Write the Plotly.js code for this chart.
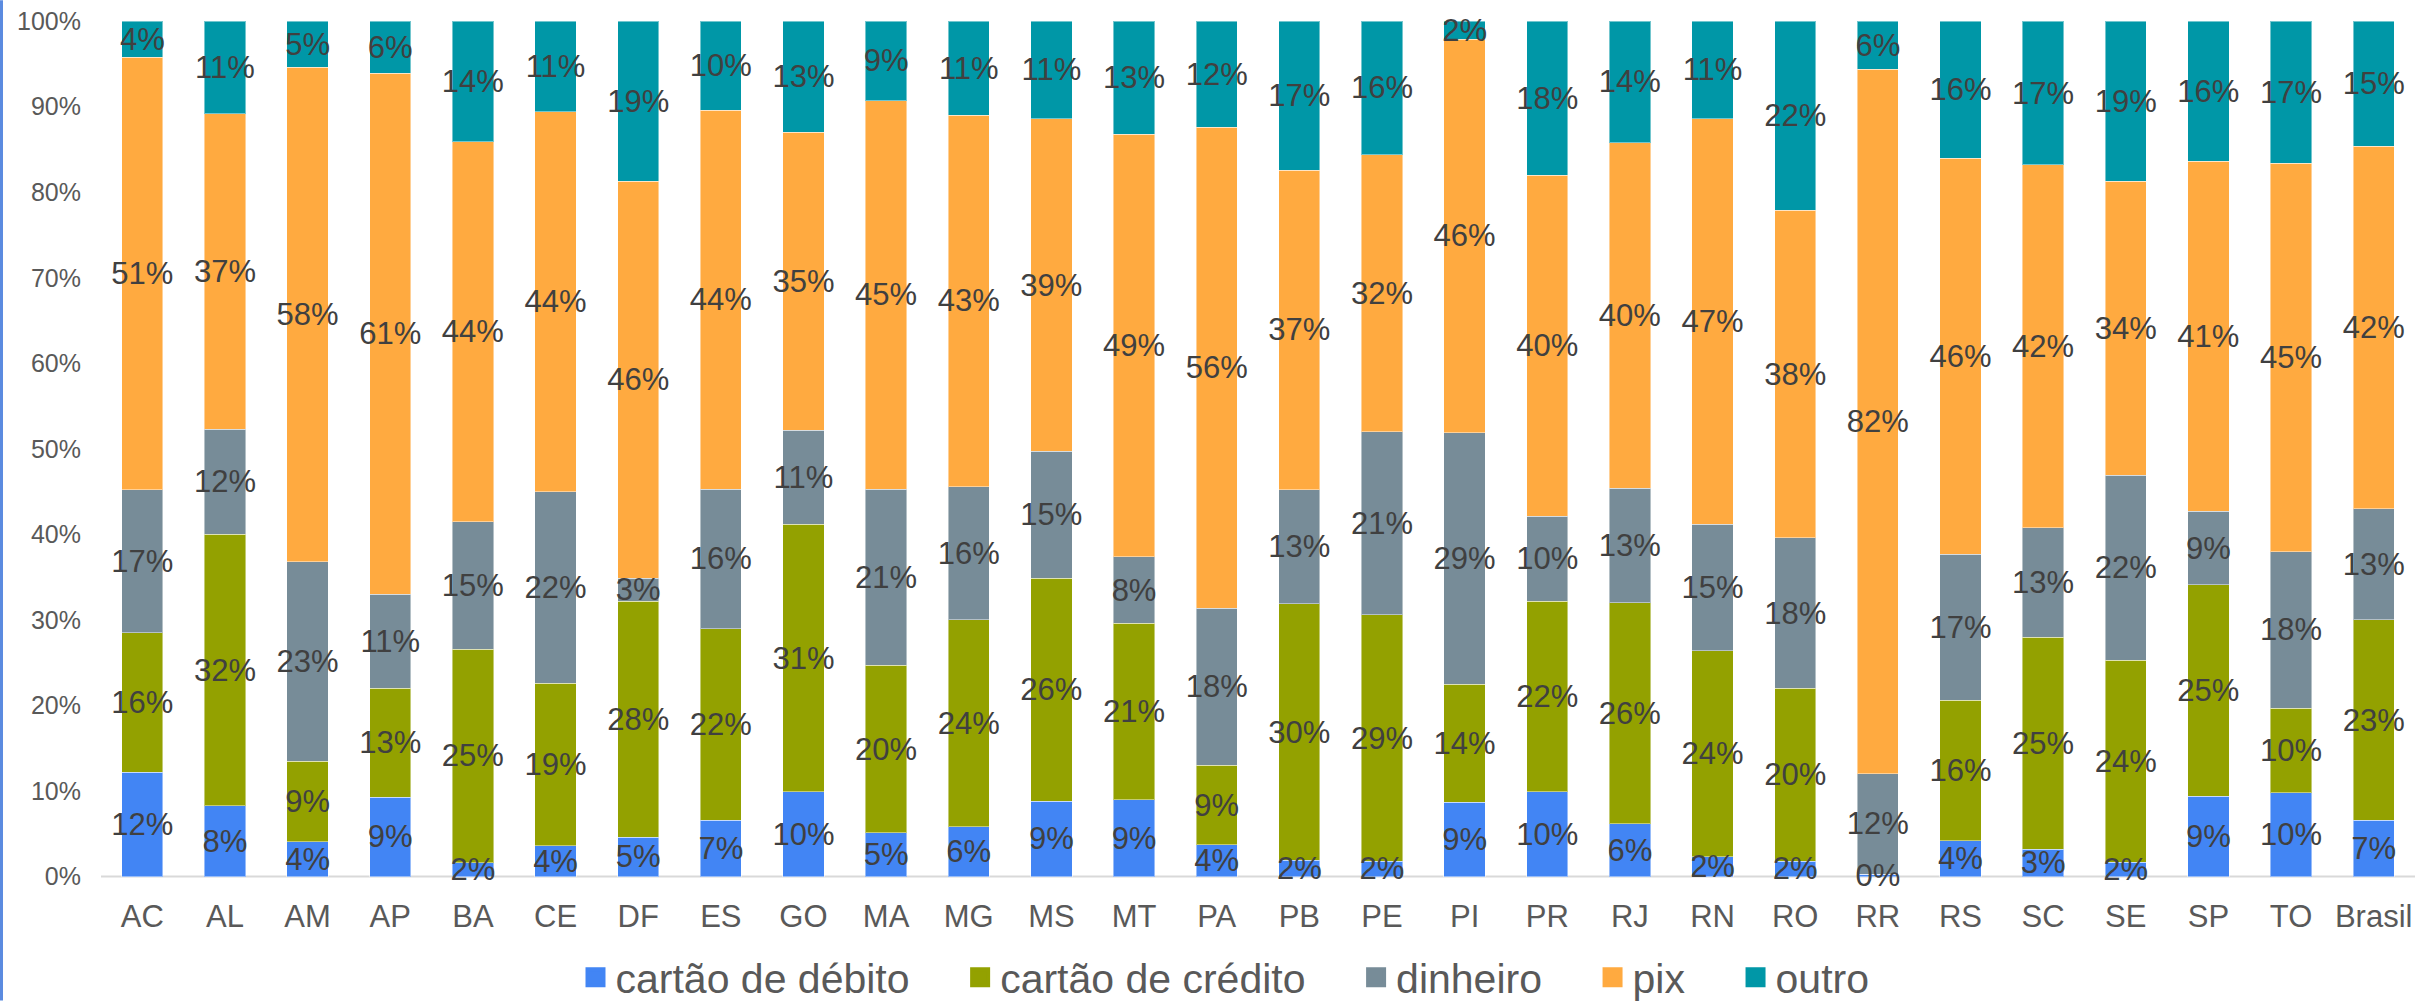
<!DOCTYPE html>
<html>
<head>
<meta charset="utf-8">
<script src="https://cdn.plot.ly/plotly-3.0.1.min.js"></script>
<style>html,body{margin:0;padding:0;background:#fff;}#chart{width:2415px;height:1001px;}</style>
</head>
<body>
<div id="chart"></div>
<script>
var categories = ["AC","AL","AM","AP","BA","CE","DF","ES","GO","MA","MG","MS","MT","PA","PB","PE","PI","PR","RJ","RN","RO","RR","RS","SC","SE","SP","TO","Brasil"];
var seriesNames = ["cartão de débito","cartão de crédito","dinheiro","pix","outro"];
var debito   = [12.2,8.3,4.1,9.3,1.6,3.6,4.6,6.6,9.9,5.1,5.8,8.8,9.0,3.7,1.9,1.8,8.7,9.9,6.2,2.3,1.8,0.3,4.2,3.2,1.7,9.4,9.8,6.6];
var credito  = [16.3,31.7,9.4,12.7,25.0,19.0,27.6,22.4,31.3,19.6,24.2,26.1,20.6,9.3,30.0,28.8,13.8,22.3,25.8,24.1,20.2,0,16.4,24.8,23.6,24.7,9.9,23.4];
var dinheiro = [16.7,12.3,23.3,11.0,14.9,22.4,2.7,16.3,11.0,20.6,15.6,14.8,7.8,18.4,13.3,21.4,29.4,9.9,13.4,14.8,17.6,11.7,17.1,12.8,21.6,8.6,18.3,13.0];
var pix      = [50.6,36.9,57.8,60.9,44.4,44.4,46.4,44.3,34.8,45.4,43.4,38.9,49.4,56.2,37.4,32.4,46.0,39.9,40.4,47.4,38.3,82.4,46.3,42.4,34.4,40.9,45.4,42.4];
var outro    = [4.2,10.8,5.4,6.1,14.1,10.6,18.7,10.4,13.0,9.3,11.0,11.4,13.2,12.4,17.4,15.6,2.1,18.0,14.2,11.4,22.1,5.6,16.0,16.8,18.7,16.4,16.6,14.6];
var yTicks = [0,10,20,30,40,50,60,70,80,90,100];
var yTickText = yTicks.map(function(v){ return v + "%"; });

var colors = ["#4285F4","#93A100","#778C98","#FFAA40","#0097A7"];
var values = [debito, credito, dinheiro, pix, outro];
var FONT = "Liberation Sans, Arial, sans-serif";

var traces = [];
// coloured stacked bars
values.forEach(function(v, i){
  traces.push({
    type: "bar",
    x: categories,
    y: v,
    name: seriesNames[i],
    showlegend: false,
    marker: {color: colors[i], line: {color: "rgba(255,255,255,0.45)", width: 1}},
    hoverinfo: "skip"
  });
});
// the same stacks again on an overlaid axis pair, transparent, carrying the data labels on top of all bars
values.forEach(function(v, i){
  traces.push({
    type: "bar",
    x: categories,
    y: v,
    xaxis: "x2", yaxis: "y2",
    name: seriesNames[i],
    showlegend: false,
    marker: {color: "rgba(0,0,0,0)", line: {width: 0}},
    texttemplate: "%{y:.0f}%",
    textposition: "inside",
    insidetextanchor: "middle",
    textangle: 0,
    constraintext: "none",
    cliponaxis: false,
    textfont: {family: FONT, size: 31, color: "#404040"},
    insidetextfont: {family: FONT, size: 31, color: "#404040"},
    hoverinfo: "skip"
  });
});
// legend entries
var pad = "\u00a0\u00a0\u00a0\u00a0";
values.forEach(function(v, i){
  traces.push({
    type: "scatter",
    mode: "markers",
    x: [null], y: [null],
    name: seriesNames[i] + (i < values.length - 1 ? pad : ""),
    showlegend: true,
    marker: {symbol: "square", size: 16, color: colors[i], line: {color: colors[i], width: 4}},
    hoverinfo: "skip"
  });
});

// 100 percentage units = 856 px; plot area extended slightly below the baseline
var W = 2415, H = 1001, L = 101, R = 0;
var unit = 856 / 100;
var yMin = -1.8, yMax = 100.02;
var T = 21 - (yMax - 100) * unit;
var ph = (yMax - yMin) * unit;
var B = H - T - ph;
var pw = W - L - R;
function py(pixelY){ return (T + ph - pixelY) / ph; }

var layout = {
  width: W, height: H,
  margin: {l: L, r: R, t: T, b: B, pad: 0, autoexpand: false},
  paper_bgcolor: "#ffffff", plot_bgcolor: "rgba(0,0,0,0)",
  barmode: "stack",
  bargap: 0.5,
  font: {family: FONT, color: "#595959"},
  showlegend: true,
  legend: {
    orientation: "h",
    x: (1225 - L) / pw, xanchor: "center",
    y: py(978), yanchor: "middle",
    font: {family: FONT, size: 41, color: "#595959"},
    bgcolor: "rgba(0,0,0,0)",
    itemclick: false, itemdoubleclick: false,
    traceorder: "normal"
  },
  xaxis: {
    type: "category",
    automargin: false,
    tickfont: {family: FONT, size: 31, color: "#595959"},
    showgrid: false, zeroline: false, showline: false,
    ticks: "", ticklabelstandoff: 3,
    fixedrange: true
  },
  yaxis: {
    range: [yMin, yMax],
    automargin: false,
    tickmode: "array",
    tickvals: yTicks,
    ticktext: yTickText,
    tickfont: {family: FONT, size: 25, color: "#595959"},
    showgrid: false, zeroline: false, showline: false,
    ticks: "", ticklabelstandoff: 19,
    fixedrange: true
  },
  xaxis2: {
    type: "category", overlaying: "x", matches: "x",
    showticklabels: false, showgrid: false, zeroline: false, showline: false, ticks: "",
    automargin: false, fixedrange: true
  },
  yaxis2: {
    overlaying: "y", range: [yMin, yMax],
    showticklabels: false, showgrid: false, zeroline: false, showline: false, ticks: "",
    automargin: false, fixedrange: true
  },
  shapes: [
    {type: "line", xref: "paper", yref: "y", x0: 0, x1: 1, y0: 0, y1: 0,
     layer: "below", line: {color: "#D9D9D9", width: 2}},
    {type: "line", xref: "paper", yref: "paper",
     x0: (1.5 - L) / pw, x1: (1.5 - L) / pw,
     y0: py(H), y1: py(0),
     line: {color: "#5B8BE0", width: 3}}
  ]
};

Plotly.newPlot("chart", traces, layout, {displayModeBar: false, staticPlot: true});
</script>
</body>
</html>
